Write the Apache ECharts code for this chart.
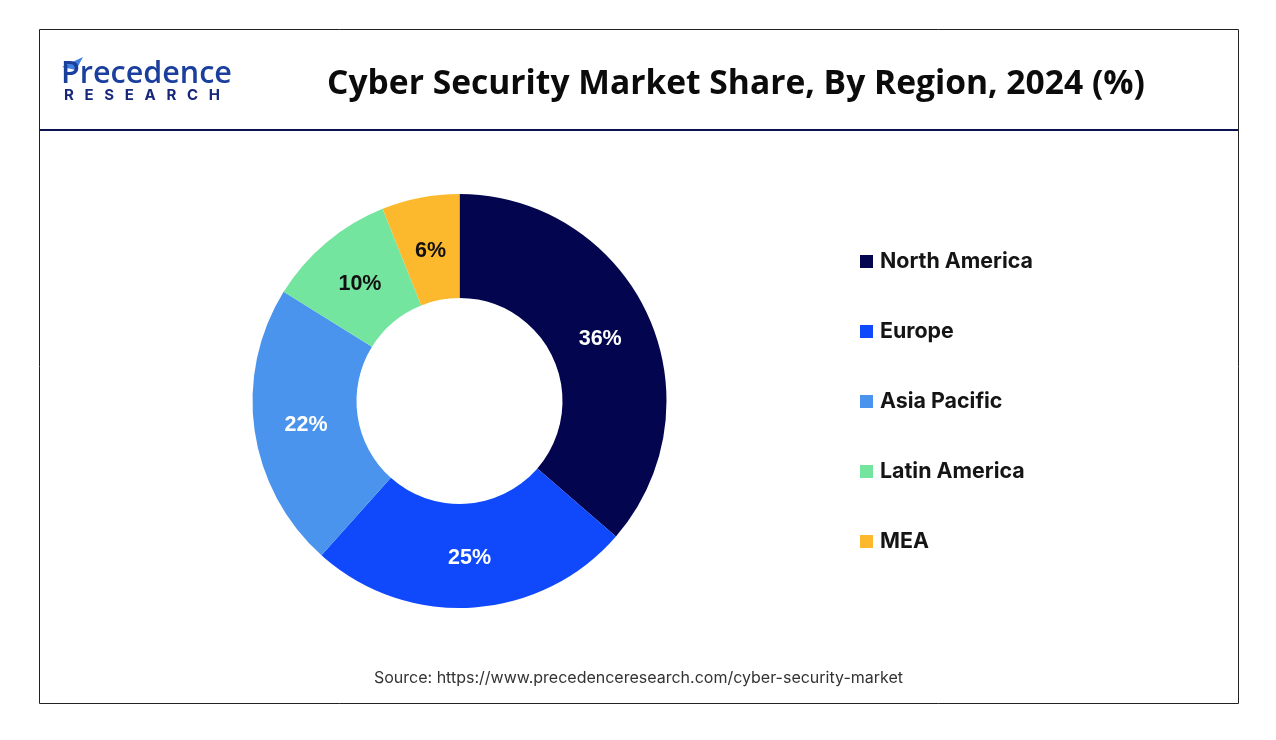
<!DOCTYPE html>
<html><head><meta charset="utf-8">
<style>html,body{margin:0;padding:0;background:#fff}#c{width:1276px;height:740px}</style>
<script src="https://cdn.jsdelivr.net/npm/echarts@6/dist/echarts.min.js"></script>
</head><body><div id="c"></div>
<script>
const regions = ["North America","Europe","Asia Pacific","Latin America","MEA"];
const shares = [36,25,22,10,6];
const colors = ["#03064f","#0f49fb","#4a94ee","#74e59f","#fdb92e"];
const labelColors = ["#ffffff","#ffffff","#ffffff","#111111","#111111"];
const labelShift = [[-3,4],[0,-1],[3,2],[2,4],[1,5]];
const titleText = "Cyber Security Market Share, By Region, 2024 (%)";
const sourceText = "Source: https://www.precedenceresearch.com/cyber-security-market";

const chart = echarts.init(document.getElementById('c'), null, {renderer:'canvas'});
chart.setOption({
  animation:false,
  backgroundColor:'#fff',
  title:{text:titleText,left:731,top:62,textAlign:'center',
    textStyle:{fontFamily:'"Open Sans"',fontWeight:700,fontSize:33.6,color:'#0b0b0b'}},
  legend:{orient:'vertical',left:855,top:246,itemWidth:13,itemHeight:13,itemGap:49,
    icon:'rect',data:regions,
    textStyle:{fontFamily:'Inter',fontWeight:700,fontSize:21.4,color:'#151515',padding:[0,0,0,2],lineHeight:21}},
  graphic:[
    {type:'rect',silent:true,z:-1,shape:{x:39.5,y:29.5,width:1199,height:674},style:{fill:'#fff',stroke:'#222',lineWidth:1}},
    {type:'line',silent:true,shape:{x1:40,y1:130,x2:1238,y2:130},style:{stroke:'#0b1250',lineWidth:2}},
    {type:'polygon',silent:true,shape:{points:[[62,67],[83,57],[76,70]]},style:{fill:'#3f7fe0'}},
    {type:'text',left:61,top:59,style:{text:'Precedence',fontFamily:'"Open Sans"',fontWeight:600,fontSize:30.5,fill:'#1a3f9c'}},
    {type:'text',left:64,top:88,style:{text:'R   E   S   E   A   R   C   H',fontFamily:'Inter',fontWeight:700,fontSize:15,fill:'#16277a'}},
    {type:'text',left:374,top:670,style:{text:sourceText,fontFamily:'Inter',fontWeight:400,fontSize:16,fill:'#333'}}
  ],
  series:[{
    type:'pie',center:[459.5,401],radius:[103,207],startAngle:90,clockwise:true,
    avoidLabelOverlap:false,
    label:{position:'inside',formatter:'{c}%',fontFamily:'"Liberation Sans"',fontWeight:700,fontSize:21.5},
    labelLine:{show:false},
    labelLayout:p=>({dx:labelShift[p.dataIndex][0],dy:labelShift[p.dataIndex][1]}),
    emphasis:{disabled:true},
    data:regions.map((n,i)=>({name:n,value:shares[i],itemStyle:{color:colors[i]},label:{color:labelColors[i]}}))
  }]
});
</script></body></html>
